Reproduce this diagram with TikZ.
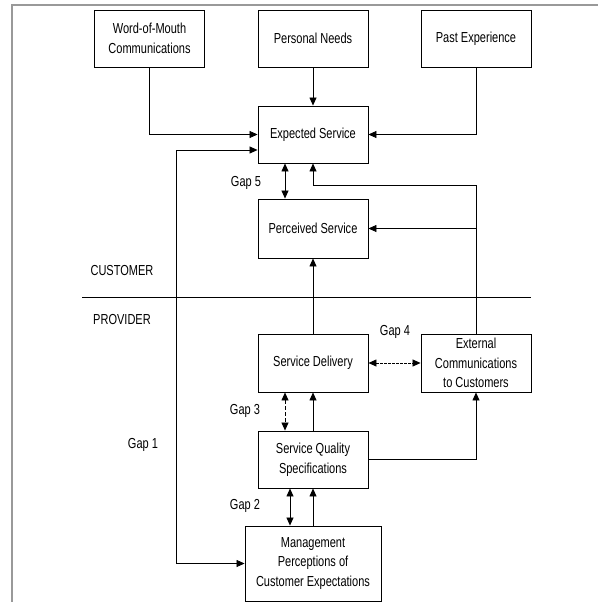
\documentclass[tikz,border=0pt]{standalone}
\usepackage{fontspec}
\setmainfont{Liberation Sans}[FakeStretch=0.76]
\usetikzlibrary{arrows.meta}
\begin{document}
\begin{tikzpicture}[x=1pt,y=-1pt,
  box/.style={draw,line width=0.9pt,minimum width=110pt,minimum height=57pt,align=center,inner sep=1pt,font=\fontsize{14.5}{19.5}\selectfont},
  lbl/.style={font=\fontsize{14.5}{17}\selectfont},
  conn/.style={line width=0.7pt},
  arr/.style={conn,-{Triangle[length=8pt,width=7pt]}},
  darr/.style={conn,{Triangle[length=8pt,width=7pt]}-{Triangle[length=8pt,width=7pt]}},
  frame/.style={draw=gray!80,line width=2pt}]
\useasboundingbox (0,0) rectangle (598,602);
\draw[frame] (12,602) -- (12,5) -- (598,5);

\node[box] (wom) at (149.5,38.5) {Word-of-Mouth\\Communications};
\node[box] (pn) at (313,38.5) {Personal Needs};
\node[box] (pe) at (476,38.5) {Past Experience};
\node[box] (es) at (313,134.5) {Expected Service};
\node[box,minimum height=59pt] (ps) at (313,228.5) {Perceived Service};
\node[box,minimum height=58pt] (sd) at (313,363) {Service Delivery};
\node[box,minimum height=58pt] (ec) at (476,363) {External\\Communications\\to Customers};
\node[box] (sqs) at (313,459.5) {Service Quality\\Specifications};
\node[box,minimum width=136pt,minimum height=75pt] (mp) at (313,563.5) {Management\\Perceptions of\\Customer Expectations};

\node[lbl] (cust) at (122,271) {CUSTOMER};
\node[lbl] (prov) at (122,320) {PROVIDER};
\node[lbl] (gap1) at (143,445) {Gap 1};
\node[lbl] (gap2) at (245,506) {Gap 2};
\node[lbl] (gap3) at (245,411) {Gap 3};
\node[lbl] (gap4) at (395,332) {Gap 4};
\node[lbl] (gap5) at (246,183) {Gap 5};

\coordinate (dl) at (82,297);
\coordinate (dr) at (531,297);
\draw[conn,line width=1pt] (dl) -- (dr);

\coordinate (g1) at (176.6,150);
\coordinate (g5) at (285,0);
\coordinate (g3) at (285,0);
\coordinate (g2) at (290,0);
\coordinate (j1) at (476,185);

\draw[arr] (wom.south) |- (es.west);
\draw[arr] (pn.south) -- (es.north);
\draw[arr] (pe.south) |- (es.east);
\draw[darr] (es.west |- g1) -- (g1) |- (mp.west);
\draw[darr] (es.south -| g5) -- (ps.north -| g5);
\draw[arr] (ec.north) -- (j1) -| (es.south);
\draw[arr] (ec.north |- ps.east) -- (ps.east);
\draw[arr] (sd.north) -- (ps.south);
\draw[darr,dashed,dash pattern=on 2.5pt off 1.5pt] (sd.east) -- (ec.west);
\draw[darr,dash pattern=on 4pt off 2pt] (sd.south -| g3) -- (sqs.north -| g3);
\draw[arr] (sqs.north) -- (sd.south);
\draw[arr] (sqs.east) -| (ec.south);
\draw[darr] (sqs.south -| g2) -- (mp.north -| g2);
\draw[arr] (mp.north) -- (sqs.south);
\end{tikzpicture}
\end{document}
